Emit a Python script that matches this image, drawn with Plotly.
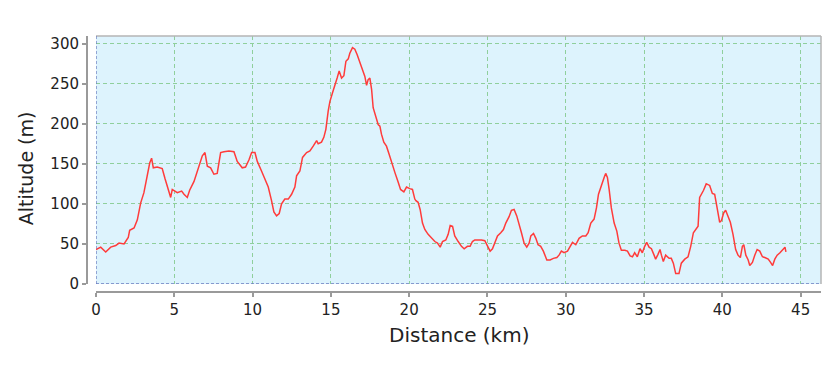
import plotly.graph_objects as go

distance_km = [
    0.0, 0.3, 0.62, 0.94, 1.26, 1.47, 1.79, 2.06, 2.15, 2.43, 2.64, 2.85, 3.06, 3.23, 3.43, 3.55,
    3.66, 3.91, 4.23, 4.40, 4.62, 4.77, 4.87, 5.19, 5.47, 5.62, 5.83, 5.98, 6.26, 6.53, 6.79, 6.96,
    7.11, 7.32, 7.53, 7.74, 7.96, 8.17, 8.49, 8.81, 9.02, 9.34, 9.55, 9.77, 9.94,
    10.15, 10.3, 10.57, 10.85, 11.0, 11.21, 11.36, 11.53, 11.70, 11.85, 12.06, 12.28, 12.49, 12.70,
    12.81, 13.02, 13.19, 13.45, 13.66, 13.87, 14.09, 14.19, 14.40, 14.55, 14.68, 14.83, 14.94, 15.11,
    15.26, 15.40, 15.53, 15.68, 15.83, 15.96, 16.11, 16.21, 16.38, 16.53, 16.68, 16.85, 17.02, 17.17,
    17.28, 17.38, 17.49, 17.60, 17.70, 17.87, 18.02, 18.13, 18.23, 18.38, 18.55, 18.72, 18.87, 19.09,
    19.30, 19.45, 19.66, 19.83, 20.04, 20.21, 20.36,
    20.43, 20.57, 20.70, 20.85, 21.0, 21.21, 21.43, 21.64, 21.81, 21.98, 22.13, 22.34, 22.49, 22.62,
    22.77, 22.91, 23.13, 23.34, 23.51, 23.72, 23.89, 24.04, 24.19, 24.40, 24.62, 24.83, 25.0, 25.17,
    25.32, 25.47, 25.64, 25.85, 26.02, 26.17, 26.38, 26.53, 26.70, 26.87, 27.02, 27.17, 27.34, 27.51,
    27.66, 27.77, 27.94, 28.09, 28.23, 28.40, 28.57, 28.79, 29.0, 29.21, 29.43, 29.57, 29.72, 29.89,
    30.11, 30.28, 30.43, 30.64, 30.85, 31.06, 31.28, 31.43, 31.60, 31.81, 31.96, 32.09, 32.23, 32.34,
    32.45, 32.55, 32.66, 32.77, 32.91, 33.09, 33.26, 33.40, 33.55, 33.77, 33.94, 34.11, 34.26, 34.40,
    34.57, 34.74, 34.89, 35.04, 35.17, 35.32, 35.47, 35.64, 35.74, 35.89, 36.02, 36.11, 36.23, 36.38,
    36.60, 36.74, 36.87, 37.02, 37.23, 37.38, 37.60, 37.81, 37.98, 38.15, 38.36, 38.45,
    38.55, 38.65, 38.80, 38.97, 39.19, 39.36, 39.51, 39.62, 39.72, 39.83, 39.94, 40.09, 40.21, 40.36,
    40.51, 40.68, 40.85, 41.0, 41.15, 41.28, 41.37, 41.50, 41.65, 41.75, 41.92, 42.07, 42.22, 42.39,
    42.56, 42.71, 42.93, 43.08, 43.21, 43.35, 43.50, 43.68, 43.85, 44.0, 44.06,
]

altitude_m = [
    43, 46, 40, 46, 48, 51, 50, 58, 67, 70, 80, 101, 114, 132, 151, 157,
    145, 146, 144, 132, 116, 108, 118, 114, 116, 112, 108, 117, 128, 145, 160, 164,
    147, 145, 137, 138, 164, 165, 166, 165, 153, 145, 146, 155, 164,
    164, 153, 141, 129, 121, 104, 90, 85, 88, 100, 106, 106, 112, 121,
    135, 141, 158, 164, 166, 172, 179, 175, 177, 183, 193, 216, 228, 239,
    247, 257, 266, 257, 260, 278, 281, 288, 295, 293, 286, 276, 268, 259,
    248, 255, 257, 243, 220, 210, 199, 197, 187, 177, 172, 162, 152, 139,
    127, 118, 115, 121, 119, 118, 106,
    104, 102, 93, 76, 68, 62, 57, 53, 51, 46, 53, 55, 62, 73,
    72, 60, 53, 47, 44, 47, 47, 53, 55, 55, 55, 54, 47, 41,
    44, 51, 60, 64, 68, 76, 84, 92, 93, 85, 76, 64, 51, 46,
    51, 60, 63, 57, 49, 47, 41, 30, 30, 32, 33, 36, 41, 39,
    41, 46, 52, 49, 57, 60, 60, 64, 76, 81, 95, 112, 121, 125,
    133, 138, 133, 118, 95, 76, 66, 51, 42, 42, 41, 35, 34, 39,
    34, 44, 39, 47, 52, 46, 44, 36, 31, 37, 43, 36, 28, 36,
    32, 32, 26, 13, 13, 26, 31, 34, 47, 64, 70, 72,
    108, 111, 117, 125, 123, 113, 112, 100, 87, 77, 79, 89, 92, 85,
    77, 62, 43, 36, 33, 47, 49, 36, 30, 23, 27, 36, 43, 41,
    34, 33, 31, 27, 23, 31, 36, 39, 43, 46, 40,
]

x_ticks = [0, 5, 10, 15, 20, 25, 30, 35, 40, 45]
y_ticks = [0, 50, 100, 150, 200, 250, 300]
x_title = "Distance (km)"
y_title = "Altitude (m)"

fig = go.Figure()
fig.add_trace(go.Scatter(
    x=distance_km, y=altitude_m, mode="lines",
    line=dict(color="#ff3b3b", width=1.5),
    hoverinfo="skip", showlegend=False,
))

grid_color = "#8fcf9c"
axis_color = "#9a9a9a"
font_family = "DejaVu Sans, sans-serif"

fig.update_layout(
    width=840, height=367,
    margin=dict(l=87, r=19, t=36, b=75),
    paper_bgcolor="white",
    plot_bgcolor="#ddf3fd",
    font=dict(family=font_family, color="#222222"),
    xaxis=dict(
        domain=[9 / 734, 1], anchor="free", position=0,
        range=[0, 46.3], tickvals=x_ticks, ticktext=[str(v) for v in x_ticks],
        showline=True, linecolor=axis_color, linewidth=2,
        ticks="outside", ticklen=4, tickwidth=2, tickcolor=axis_color,
        tickfont=dict(size=15, color="#222222"),
        showgrid=True, gridcolor=grid_color, gridwidth=1.2, griddash="4px,3px",
        zeroline=False,
    ),
    yaxis=dict(
        domain=[8 / 256, 1], anchor="free", position=0,
        range=[0, 309.5], tickvals=y_ticks, ticktext=[str(v) for v in y_ticks],
        showline=True, linecolor=axis_color, linewidth=2,
        ticks="outside", ticklen=4, tickwidth=2, tickcolor=axis_color,
        tickfont=dict(size=15, color="#222222"),
        showgrid=True, gridcolor=grid_color, gridwidth=1.2, griddash="4px,3px",
        zeroline=False,
    ),
    shapes=[
        dict(type="line", xref="x domain", yref="y domain", x0=0, x1=1, y0=1, y1=1,
             line=dict(color="#b4b4b4", width=1.5)),
        dict(type="line", xref="x domain", yref="y domain", x0=1, x1=1, y0=0, y1=1,
             line=dict(color="#b4b4b4", width=1.5)),
        dict(type="line", xref="x", yref="y domain", x0=0, x1=0, y0=0, y1=1,
             line=dict(color="#6a7cc0", width=1.3, dash="3px,2px")),
        dict(type="line", xref="x domain", yref="y", x0=0, x1=1, y0=0, y1=0,
             line=dict(color="#6a7cc0", width=1.3, dash="3px,2px")),
    ],
    annotations=[
        dict(text=x_title, xref="paper", yref="paper", x=(9 / 734 + 1) / 2, y=-0.115,
             xanchor="center", yanchor="top", showarrow=False,
             font=dict(size=20, color="#222222")),
        dict(text=y_title, xref="paper", yref="paper", x=-0.066, y=0.482,
             xanchor="right", yanchor="middle", textangle=-90, showarrow=False,
             font=dict(size=19, color="#222222")),
    ],
)

fig.write_html("out.html")
